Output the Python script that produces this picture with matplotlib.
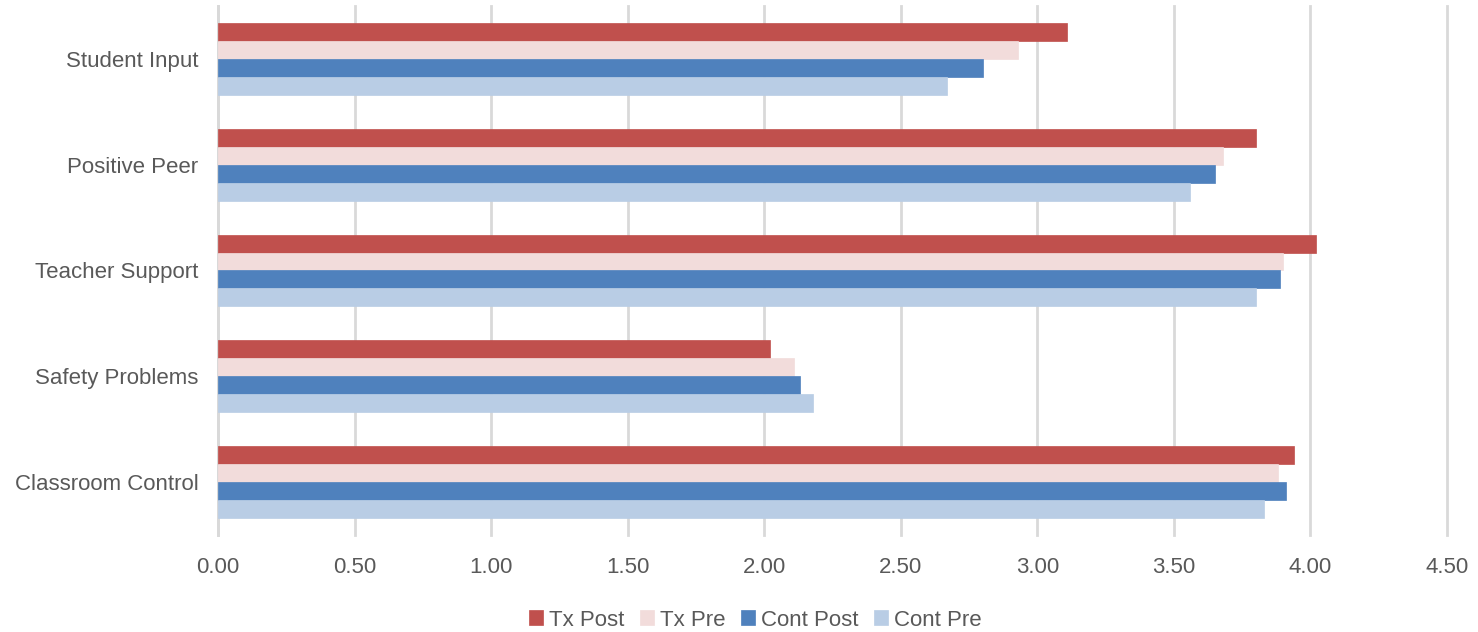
import matplotlib
matplotlib.use("Agg")
import matplotlib.pyplot as plt
import numpy as np

categories = ["Classroom Control", "Safety Problems", "Teacher Support", "Positive Peer", "Student Input"]
series_names = ["Tx Post", "Tx Pre", "Cont Post", "Cont Pre"]
tx_post = [3.94, 2.02, 4.02, 3.80, 3.11]
tx_pre = [3.88, 2.11, 3.90, 3.68, 2.93]
cont_post = [3.91, 2.13, 3.89, 3.65, 2.80]
cont_pre = [3.83, 2.18, 3.80, 3.56, 2.67]
xticks = [0.0, 0.5, 1.0, 1.5, 2.0, 2.5, 3.0, 3.5, 4.0, 4.5]

colors = ["#C0504D", "#F2DCDB", "#4F81BD", "#B9CDE5"]
text_color = "#595959"
grid_color = "#D9D9D9"

plt.rcParams['font.family'] = ['Liberation Sans', 'DejaVu Sans']

fig = plt.figure(figsize=(14.78, 6.32), dpi=100)
ax = fig.add_axes([218/1478, 1-535/632, (1447-218)/1478, (535-6)/632])

y = np.arange(len(categories))
h = 0.17
all_series = [tx_post, tx_pre, cont_post, cont_pre]
for i, (name, vals, c) in enumerate(zip(series_names, all_series, colors)):
    offs = (1.5 - i) * h
    ax.barh(y + offs, vals, height=h, color=c, label=name, zorder=3,
            edgecolor=c, linewidth=0.5)

ax.set_xlim(0, 4.5)
ax.set_ylim(-0.5, len(categories) - 0.5)
ax.set_xticks(xticks)
ax.set_xticklabels([f"{v:.2f}" for v in xticks], color=text_color, fontsize=16)
ax.set_yticks(y)
ax.set_yticklabels(categories, color=text_color, fontsize=16)
ax.tick_params(axis='y', length=0, pad=14)
ax.tick_params(axis='x', length=0, pad=16)
ax.grid(axis='x', color=grid_color, linewidth=2, zorder=0)
for gl in ax.get_xgridlines():
    gl.set_clip_on(False)
for s in ['top', 'right', 'bottom']:
    ax.spines[s].set_visible(False)
ax.spines['left'].set_color(grid_color)
ax.spines['left'].set_linewidth(2)

leg = fig.legend(loc='center', bbox_to_anchor=(755/1478, 1-620/632), ncol=4,
                 frameon=False, fontsize=16, handlelength=0.65, handleheight=0.65,
                 handletextpad=0.25, columnspacing=0.7, labelcolor=text_color)

fig.savefig("out.png", dpi=100)
